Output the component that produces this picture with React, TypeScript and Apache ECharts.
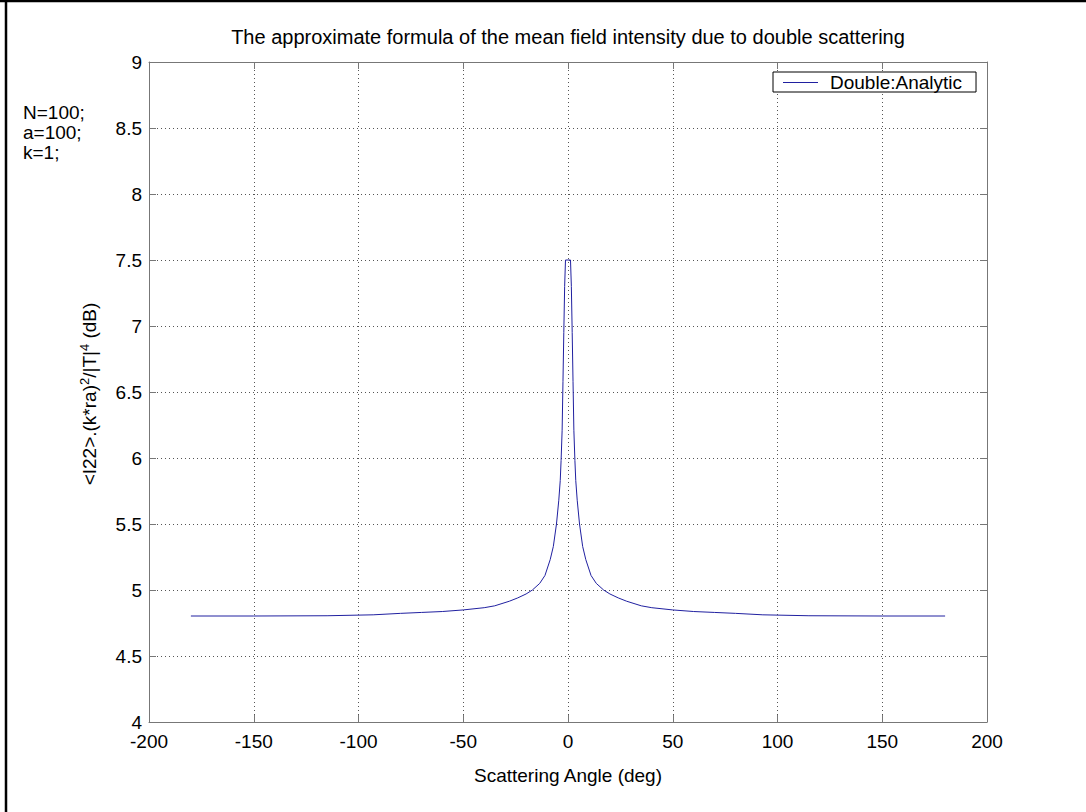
import React, { useEffect, useRef } from "react";
import * as echarts from "echarts";

const chartTitle = "The approximate formula of the mean field intensity due to double scattering";
const seriesName = "Double:Analytic";
const xAxisName = "Scattering Angle (deg)";
const paramLines = ["N=100;", "a=100;", "k=1;"];

const angleDeg = [
  -180, -150, -115, -93, -80, -70, -60, -50, -40, -35, -28, -24, -20, -17, -13.5, -11, -8.5, -7, -5.5,
  -4.4, -3.7, -3.3, -2.8, -2.4, -2.0, -1.6, -1.2, 0,
  1.2, 1.6, 2.0, 2.4, 2.8, 3.3, 3.7, 4.4, 5.5, 7, 8.5, 11, 13.5, 17, 20, 24, 28, 35, 40, 50, 60, 70,
  80, 93, 115, 150, 180,
];
const intensityDb = [
  4.803, 4.803, 4.805, 4.812, 4.823, 4.83, 4.837, 4.849, 4.866, 4.88, 4.915, 4.94, 4.97, 5.0, 5.05, 5.11, 5.23, 5.33, 5.5,
  5.68, 5.83, 5.98, 6.21, 6.58, 6.95, 7.3, 7.5, 7.5,
  7.5, 7.3, 6.95, 6.58, 6.21, 5.98, 5.83, 5.68, 5.5, 5.33, 5.23, 5.11, 5.05, 5.0, 4.97, 4.94, 4.915, 4.88, 4.866, 4.849, 4.837, 4.83,
  4.823, 4.812, 4.805, 4.803, 4.803,
];

const FONT = "'Liberation Sans', Arial, sans-serif";
const FS = 19;

export default function App() {
  const ref = useRef<HTMLDivElement>(null);
  useEffect(() => {
    if (!ref.current) return;
    const chart = echarts.init(ref.current, null, { renderer: "svg" });
    const data = angleDeg.map((a, i) => [a, intensityDb[i]]);
    const axisColor = "#777";
    const gridLine = { show: true, lineStyle: { color: "#555", type: [1, 3] as any, width: 1 } };
    chart.setOption({
      animation: false,
      backgroundColor: "#fff",
      textStyle: { fontFamily: FONT },
      title: {
        text: chartTitle,
        left: 568,
        textAlign: "center",
        top: 27,
        padding: 0,
        textStyle: { fontFamily: FONT, fontSize: 20, fontWeight: "normal", color: "#000" },
      },
      legend: {
        left: 773,
        top: 72,
        padding: [1, 14, 0, 10],
        borderColor: "#000",
        borderWidth: 1,
        backgroundColor: "#fff",
        itemWidth: 35,
        itemHeight: 1,
        icon: "rect",
        textStyle: { fontFamily: FONT, fontSize: FS, color: "#000", padding: [0, 0, 0, 7] },
        data: [seriesName],
      },
      grid: { left: 149, right: 99, top: 62, bottom: 90, show: false },
      xAxis: [
        {
          type: "value",
          min: -200,
          max: 200,
          interval: 50,
          position: "bottom",
          name: xAxisName,
          nameLocation: "middle",
          nameGap: 44,
          nameTextStyle: { fontFamily: FONT, fontSize: FS, color: "#000" },
          axisLine: { show: true, onZero: false, lineStyle: { color: axisColor, width: 1 } },
          axisTick: { show: true, inside: true, length: 7, lineStyle: { color: axisColor } },
          axisLabel: { fontFamily: FONT, fontSize: FS, color: "#000", margin: 10 },
          splitLine: gridLine,
        },
        {
          type: "value",
          min: -200,
          max: 200,
          interval: 50,
          position: "top",
          axisLine: { show: true, onZero: false, lineStyle: { color: axisColor, width: 1 } },
          axisTick: { show: true, inside: true, length: 7, lineStyle: { color: axisColor } },
          axisLabel: { show: false },
          splitLine: { show: false },
        },
      ],
      yAxis: [
        {
          type: "value",
          min: 4,
          max: 9,
          interval: 0.5,
          position: "left",
          axisLine: { show: true, onZero: false, lineStyle: { color: axisColor, width: 1 } },
          axisTick: { show: true, inside: true, length: 7, lineStyle: { color: axisColor } },
          axisLabel: { fontFamily: FONT, fontSize: FS, color: "#000", margin: 7 },
          splitLine: gridLine,
        },
        {
          type: "value",
          min: 4,
          max: 9,
          interval: 0.5,
          position: "right",
          axisLine: { show: true, onZero: false, lineStyle: { color: axisColor, width: 1 } },
          axisTick: { show: true, inside: true, length: 7, lineStyle: { color: axisColor } },
          axisLabel: { show: false },
          splitLine: { show: false },
        },
      ],
      graphic: [
        { type: "line", silent: true, shape: { x1: 6, y1: 0, x2: 6, y2: 812 }, style: { stroke: "#000", lineWidth: 2.5 } },
        { type: "line", silent: true, shape: { x1: 0, y1: 1, x2: 1086, y2: 1 }, style: { stroke: "#000", lineWidth: 2.5 } },
        {
          type: "text",
          left: 23,
          top: 102,
          style: {
            text: paramLines.join("\n"),
            font: `${FS}px ${FONT}`,
            lineHeight: 20,
            fill: "#000",
          },
        },
        {
          type: "text",
          x: 89,
          y: 394,
          rotation: Math.PI / 2,
          style: {
            text: "<I22>.(k*ra){sup|2}/|T|{sup|4} (dB)",
            font: `${FS}px ${FONT}`,
            fill: "#000",
            align: "center",
            verticalAlign: "middle",
            rich: {
              sup: { fontSize: 13, fontFamily: FONT, verticalAlign: "top", padding: [0, 0, 10, 0], fill: "#000" },
            },
          },
        },
      ],
      series: [
        {
          name: seriesName,
          type: "line",
          data,
          showSymbol: false,
          symbol: "none",
          color: "#2020a0",
          lineStyle: { color: "#2020a0", width: 1 },
          xAxisIndex: 0,
          yAxisIndex: 0,
        },
      ],
    });
    return () => chart.dispose();
  }, []);
  return (
    <div style={{ position: "fixed", left: 0, top: 0, width: 1086, height: 812, background: "#fff" }}>
      <div ref={ref} style={{ width: 1086, height: 812 }} />
    </div>
  );
}
